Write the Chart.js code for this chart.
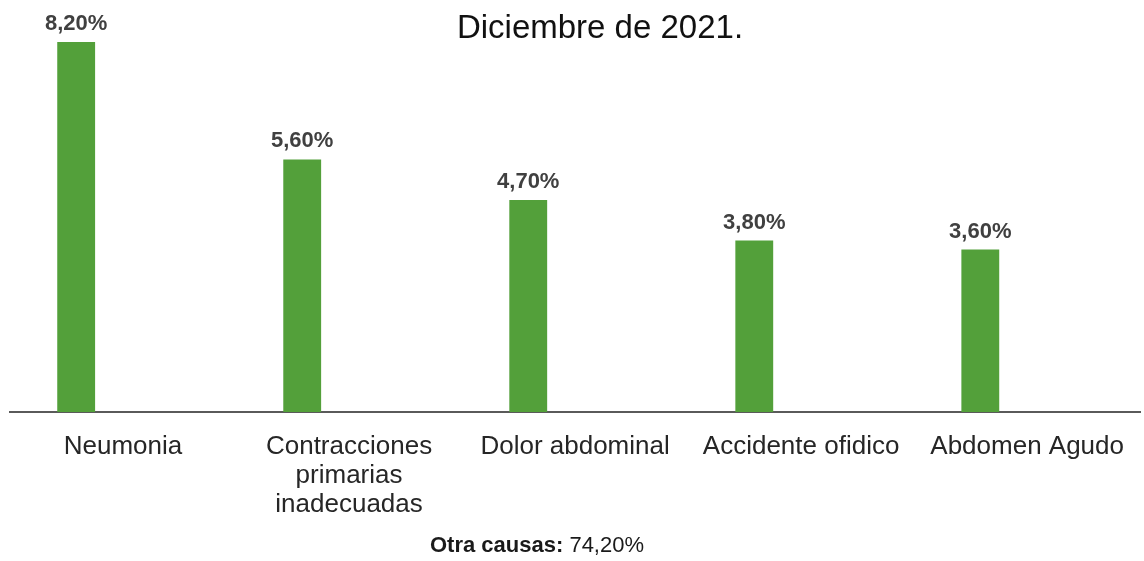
<!DOCTYPE html>
<html>
<head>
<meta charset="utf-8">
<script src="https://cdn.jsdelivr.net/npm/chart.js@4.4.1/dist/chart.umd.min.js"></script>
<style>
  html, body { margin: 0; padding: 0; background: #fff; }
  #wrap { position: relative; width: 1144px; height: 561px; overflow: hidden; }
  #title {
    position: absolute; top: 10px; left: 600px; transform: translateX(-50%);
    font: 33px "Liberation Sans", Arial, sans-serif; line-height: 33px;
    color: #111; white-space: nowrap;
  }
  #note {
    position: absolute; top: 534px; left: 537px; transform: translateX(-50%);
    font: 22px "Liberation Sans", Arial, sans-serif; line-height: 22px;
    color: #1a1a1a; white-space: nowrap;
  }
  #note b { font-weight: bold; }
</style>
</head>
<body>
<div id="wrap">
  <canvas id="chart"></canvas>
  <div id="title">Diciembre de 2021.</div>
  <div id="note"><b>Otra causas:</b> <span id="other-value"></span></div>
</div>
<script>
// data
const categories = [
  "Neumonia",
  ["Contracciones", "primarias", "inadecuadas"],
  "Dolor abdominal",
  "Accidente ofidico",
  "Abdomen Agudo",
];
const percentValues = [8.2, 5.6, 4.7, 3.8, 3.6];
// empty second series (the original chart keeps a slot for it, so bars sit left of the label)
const emptySeries = [null, null, null, null, null];
const otherCauses = 74.2;

const fmt = (v) => v.toFixed(2).replace(".", ",") + "%";
document.getElementById("other-value").textContent = fmt(otherCauses);

// draw the value above each bar
const valueLabels = {
  id: "valueLabels",
  afterDatasetsDraw(chart) {
    const ctx = chart.ctx;
    const meta = chart.getDatasetMeta(0);
    ctx.save();
    ctx.font = 'bold 22px "Liberation Sans", Arial, sans-serif';
    ctx.fillStyle = "#404040";
    ctx.textAlign = "center";
    ctx.textBaseline = "alphabetic";
    meta.data.forEach((bar, i) => {
      ctx.fillText(fmt(percentValues[i]), bar.x, bar.y - 12);
    });
    ctx.restore();
  },
};

new Chart(document.getElementById("chart"), {
  type: "bar",
  data: {
    labels: categories,
    datasets: [
      {
        label: "Porcentaje",
        data: percentValues,
        backgroundColor: "#53a03a",
        categoryPercentage: 0.829,
        barPercentage: 0.404,
      },
      {
        label: "",
        data: emptySeries,
        backgroundColor: "#53a03a",
        categoryPercentage: 0.829,
        barPercentage: 0.404,
      },
    ],
  },
  options: {
    responsive: true,
    maintainAspectRatio: false,
    animation: false,
    layout: { padding: { left: 10, right: 0, top: 6, bottom: 0 } },
    plugins: {
      legend: { display: false },
      tooltip: { enabled: false },
    },
    scales: {
      x: {
        grid: { display: false, drawTicks: false },
        border: { display: true, color: "#5a5a5a", width: 2 },
        ticks: {
          color: "#262626",
          font: { family: '"Liberation Sans", Arial, sans-serif', size: 26, lineHeight: 1.12 },
          padding: 20,
          autoSkip: false,
          maxRotation: 0,
        },
        afterFit: (scale) => { scale.height = 149; },
      },
      y: { display: false, min: 0, max: 9 },
    },
  },
  plugins: [valueLabels],
});
</script>
</body>
</html>
